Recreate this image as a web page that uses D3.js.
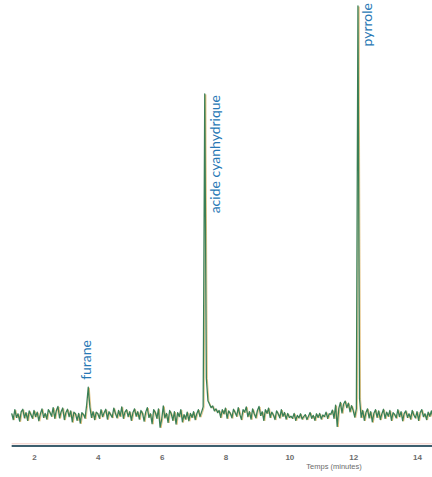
<!DOCTYPE html>
<html>
<head>
<meta charset="utf-8">
<script src="https://cdn.jsdelivr.net/npm/d3@7/dist/d3.min.js"></script>
<style>
  html, body { margin: 0; padding: 0; background: #fff; }
  svg { display: block; }
</style>
</head>
<body>
<svg id="chart" width="432" height="477"></svg>
<script>
// Chromatogram: detector signal (relative units, pyrrole peak = 100)
// sampled every 0.05 min from 1.30 min.
const timeStart = 1.30;
const timeStep = 0.05;
const signal = [
  // 1.30 – 2.00
  0.4,-1.1,1.3,-0.6,0.3,-1.5,0.8,1.4,-0.7,0.6,-1.3,1.0,0.1,-0.8,1.1,
  // 2.05 – 3.00
  -0.4,0.7,-1.4,0.3,1.5,-0.6,0.4,-1.0,1.3,0.6,-0.3,1.8,-0.8,1.1,2.1,-0.7,0.8,1.7,-1.1,0.6,
  // 3.05 – 3.50
  1.4,-0.4,1.0,-1.7,0.7,0.3,-1.3,0.4,-2.0,0.6,
  // 3.55 – 3.85 (furane)
  0.1,-0.8,2.5,6.8,2.0,-0.6,0.8,
  // 3.90 – 5.00
  -1.1,0.7,0.3,-0.8,1.3,-0.4,0.6,1.4,-1.0,0.8,0.1,-0.6,1.7,0.4,-0.7,1.1,-0.3,2.0,-0.8,0.7,1.3,-0.4,0.8,
  // 5.05 – 6.00
  -1.3,0.6,1.5,-0.3,0.8,-1.0,1.1,0.4,-1.5,0.7,1.8,-0.6,0.3,-2.1,1.3,0.6,-0.8,1.5,-3.0,-1.1,
  // 6.05 – 7.25
  2.2,-0.7,0.4,-1.8,1.1,0.3,-1.3,0.8,-2.2,0.6,-0.4,1.3,-1.7,0.1,-1.0,0.7,-1.4,0.4,-0.6,0.8,-1.1,0.3,1.3,-0.4,0.7,
  // 7.30 – 7.80 (acide cyanhydrique)
  2.0,78.5,9.0,3.5,2.6,1.8,2.2,1.0,1.5,0.6,1.1,
  // 7.85 – 10.00
  -0.6,1.3,0.3,1.7,-0.8,1.0,0.4,-0.7,1.4,0.6,-0.3,1.8,0.1,-1.1,1.3,0.7,2.0,-0.4,0.8,-1.0,
  1.5,0.3,-0.7,1.1,2.1,-0.1,0.8,-1.3,1.3,0.4,1.7,-0.6,0.7,0.0,-1.1,1.0,0.3,-0.7,1.3,-0.3,
  0.6,-1.0,0.4,-0.6,
  // 10.05 – 11.25
  -0.3,-0.8,0.4,-1.3,-0.1,-0.7,0.3,-1.0,-0.4,0.1,-1.1,-0.3,0.6,-0.8,-0.1,-1.3,0.3,-0.6,0.4,-1.0,
  0.0,-0.4,0.7,-0.8,0.3,
  // 11.30 – 12.10
  0.2,1.2,-0.8,2.4,-2.8,1.6,3.1,0.5,2.7,3.4,1.8,2.9,0.8,2.3,1.1,-0.5,1.5,
  // 12.15 (pyrrole)
  100,
  // 12.20 – 12.25
  4.0,-0.6,
  // 12.30 – 14.50
  1.1,-1.3,0.6,1.5,-0.7,0.8,-1.7,0.4,1.3,-0.6,1.0,-1.1,0.3,1.4,-0.8,0.7,-0.3,1.1,-1.3,0.6,
  0.1,-0.7,1.3,-0.4,0.8,-1.4,0.4,1.0,-0.6,0.3,-1.0,1.1,0.0,-0.7,0.8,-1.3,0.6,1.3,-0.4,0.3,
  -1.1,0.7,-0.3,1.0,-0.6
];

// Labelled peaks
const peakNames = ["furane", "acide cyanhydrique", "pyrrole"];
const peakTimes = [3.70, 7.35, 12.15];

// Axis
const tickValues = [2, 4, 6, 8, 10, 12, 14];
const axisTitle = "Temps (minutes)";

const points = signal.map((v, i) => ({ t: timeStart + i * timeStep, v }));

const svg = d3.select("#chart");

const x = d3.scaleLinear().domain([2, 14]).range([34, 417]);
const y = d3.scaleLinear().domain([0, 100]).range([415, 6]);

const axisY = 446;
const x0 = x(timeStart);
const x1 = 432;

// baseline axis: faint rose line above the slate rule
svg.append("line")
  .attr("x1", x0).attr("x2", x1)
  .attr("y1", axisY - 2.2).attr("y2", axisY - 2.2)
  .attr("stroke", "#f1c9c2").attr("stroke-width", 1);

const xAxis = d3.axisBottom(x)
  .tickValues(tickValues)
  .tickSize(0)
  .tickPadding(8)
  .tickFormat(d3.format("d"));

const gAxis = svg.append("g")
  .attr("transform", `translate(0,${axisY})`)
  .call(xAxis);
gAxis.select(".domain").remove();
gAxis.append("line")
  .attr("x1", x0).attr("x2", x1)
  .attr("y1", 0).attr("y2", 0)
  .attr("stroke", "#3d5f6f").attr("stroke-width", 2);
gAxis.selectAll(".tick text")
  .attr("fill", "#6b6b6b")
  .attr("font-family", "Liberation Sans, Arial, sans-serif")
  .attr("font-weight", "bold")
  .attr("font-size", 8);

svg.append("text")
  .attr("x", x(11.4))
  .attr("y", 469)
  .attr("text-anchor", "middle")
  .attr("fill", "#6b6b6b")
  .attr("font-family", "Liberation Sans, Arial, sans-serif")
  .attr("font-size", 7.5)
  .text(axisTitle);

// trace: amber shadow under the green detector line
const line = d3.line()
  .x(d => x(d.t))
  .y(d => y(d.v));

svg.append("path")
  .datum(points)
  .attr("d", line)
  .attr("transform", "translate(1,0.6)")
  .attr("fill", "none")
  .attr("stroke", "#dcae5a")
  .attr("stroke-width", 1)
  .attr("stroke-opacity", 0.7);

svg.append("path")
  .datum(points)
  .attr("d", line)
  .attr("fill", "none")
  .attr("stroke", "#3a7f55")
  .attr("stroke-width", 1.3)
  .attr("stroke-linejoin", "round");

// peak labels, written vertically beside each peak
const labelOffsets = [
  { dx: 3, top: 340 },
  { dx: 15, top: 95 },
  { dx: 14, top: 3 }
];

peakNames.forEach((name, i) => {
  const px = x(peakTimes[i]) + labelOffsets[i].dx;
  svg.append("text")
    .attr("transform", `translate(${px},${labelOffsets[i].top}) rotate(-90)`)
    .attr("text-anchor", "end")
    .attr("fill", "#2878b5")
    .attr("font-family", "Lato, 'Open Sans', sans-serif")
    .attr("font-size", 14)
    .text(name);
});
</script>
</body>
</html>
